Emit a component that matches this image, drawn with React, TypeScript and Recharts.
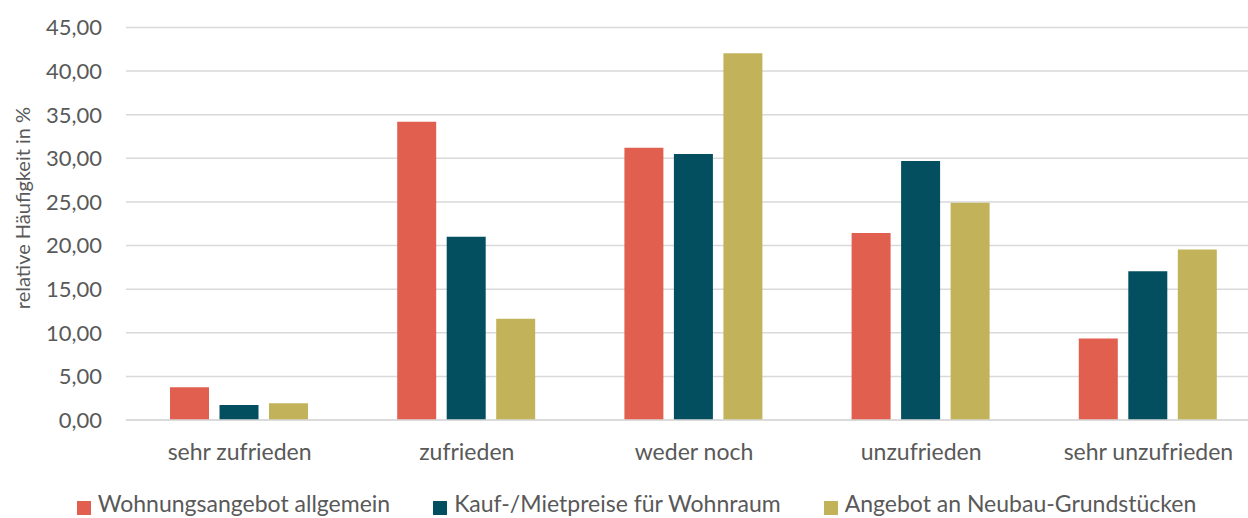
import React from "react";
import { BarChart, Bar, XAxis, YAxis, CartesianGrid, Legend } from "recharts";

const categories = ["sehr zufrieden", "zufrieden", "weder noch", "unzufrieden", "sehr unzufrieden"];
const wohnungsangebot = [3.75, 34.2, 31.2, 21.45, 9.33];
const kaufMietpreise = [1.72, 21.0, 30.5, 29.7, 17.05];
const neubauGrundstuecke = [1.91, 11.6, 42.05, 24.9, 19.55];
const yTicks = [0, 5, 10, 15, 20, 25, 30, 35, 40, 45];

const seriesNames = [
  "Wohnungsangebot allgemein",
  "Kauf-/Mietpreise für Wohnraum",
  "Angebot an Neubau-Grundstücken",
];
const colors = ["#E15F4F", "#034F60", "#C2B35B"];

const data = categories.map((c, i) => ({
  name: c,
  a: wohnungsangebot[i],
  b: kaufMietpreise[i],
  c: neubauGrundstuecke[i],
}));

const FONT = "Lato, 'Open Sans', sans-serif";
const TEXT = "#595959";

const fmt = (v: number) => v.toFixed(2).replace(".", ",");

export default function App() {
  return (
    <div style={{ position: "fixed", left: 0, top: 0, width: 1248, height: 518, overflow: "hidden", background: "#fff" }}>
      <BarChart
        width={1262}
        height={518}
        data={data}
        margin={{ top: 27.5, right: 0, bottom: 0, left: 0 }}
        barGap={10.5}
        barCategoryGap={44}
        style={{ fontFamily: FONT }}
      >
        <CartesianGrid vertical={false} stroke="#D9D9D9" strokeWidth={1.5} />
        <XAxis
          dataKey="name"
          height={98}
          axisLine={{ stroke: "#D9D9D9", strokeWidth: 1.5 }}
          tickLine={false}
          tickMargin={18}
          tick={{ fill: TEXT, fontSize: 23, fontFamily: FONT }}
          interval={0}
        />
        <YAxis
          width={126}
          domain={[0, 45]}
          ticks={yTicks}
          axisLine={false}
          tickLine={false}
          tickMargin={18}
          tickFormatter={fmt}
          tick={{ fill: TEXT, fontSize: 22, fontFamily: FONT }}
          label={{
            content: () => (
              <text
                x={22}
                y={208}
                transform="rotate(-90 22 208)"
                textAnchor="middle"
                dominantBaseline="central"
                fill={TEXT}
                fontSize={20}
                fontFamily={FONT}
              >
                relative Häufigkeit in %
              </text>
            ),
          }}
        />
        <Legend
          verticalAlign="middle"
          align="center"
          layout="horizontal"
          iconType="square"
          iconSize={14}
          itemSorter="dataKey"
          wrapperStyle={{ top: 489, left: 34, width: 1248, fontFamily: FONT }}
          formatter={(value: string) => (
            <span style={{ color: TEXT, fontSize: 23, marginLeft: 3, marginRight: 33 }}>{value}</span>
          )}
        />
        <Bar dataKey="a" name={seriesNames[0]} fill={colors[0]} isAnimationActive={false} />
        <Bar dataKey="b" name={seriesNames[1]} fill={colors[1]} isAnimationActive={false} />
        <Bar dataKey="c" name={seriesNames[2]} fill={colors[2]} isAnimationActive={false} />
      </BarChart>
    </div>
  );
}
